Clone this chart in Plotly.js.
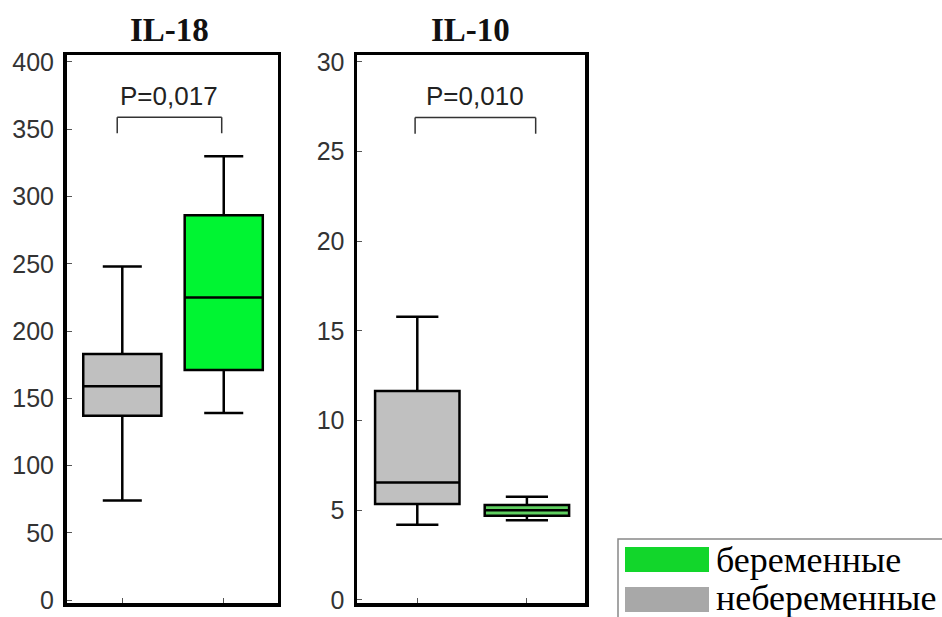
<!DOCTYPE html>
<html>
<head>
<meta charset="utf-8">
<script src="https://cdn.plot.ly/plotly-3.0.1.min.js"></script>
<style>html,body{margin:0;padding:0;background:#fff;}#chart{width:942px;height:617px;}</style>
</head>
<body>
<div id="chart"></div>
<script>
// Group labels
const groups = ["небеременные", "беременные"];
const panelTitles = ["IL-18", "IL-10"];
const pValues = ["P=0,017", "P=0,010"];

// IL-18 box statistics: [небеременные, беременные]
const il18Min = [74, 139];
const il18Q1 = [137, 171];
const il18Median = [159, 225];
const il18Q3 = [183, 286];
const il18Max = [248, 330];

// IL-10 box statistics: [небеременные, беременные]
const il10Min = [4.2, 4.45];
const il10Q1 = [5.35, 4.7];
const il10Median = [6.55, 5.0];
const il10Q3 = [11.65, 5.3];
const il10Max = [15.8, 5.75];

// Axis ticks
const il18Ticks = [0, 50, 100, 150, 200, 250, 300, 350, 400];
const il10Ticks = [0, 5, 10, 15, 20, 25, 30];

// Bracket positions for p-value marks
const il18Bracket = {x0: -0.05, x1: 0.98, top: 359, leg: 347, text: 375};
const il10Bracket = {x0: -0.02, x1: 1.08, top: 26.9, leg: 26.0, text: 28.1};

const greyFill = "#c0c0c0";
const green18 = "#00f532";
const green10 = "#5fcf60";

function boxTrace(i, stats, fill, xa, ya) {
  return {
    type: "box",
    x: [i],
    q1: [stats.q1[i]], median: [stats.median[i]], q3: [stats.q3[i]],
    lowerfence: [stats.min[i]], upperfence: [stats.max[i]],
    width: 0.77, whiskerwidth: 0.5,
    fillcolor: fill,
    line: {color: "#000", width: 2.5},
    boxpoints: false,
    xaxis: xa, yaxis: ya,
    name: groups[i], showlegend: false, hoverinfo: "skip"
  };
}

const s18 = {min: il18Min, q1: il18Q1, median: il18Median, q3: il18Q3, max: il18Max};
const s10 = {min: il10Min, q1: il10Q1, median: il10Median, q3: il10Q3, max: il10Max};

const data = [
  boxTrace(0, s18, greyFill, "x", "y"),
  boxTrace(1, s18, green18, "x", "y"),
  boxTrace(0, s10, greyFill, "x2", "y2"),
  boxTrace(1, s10, green10, "x2", "y2")
];

const W = 942, H = 617;
const px = v => v / W;
const py = v => 1 - v / H;

function xaxisDef(domain) {
  return {
    domain: domain, range: [-0.55, 1.53],
    showline: true, linecolor: "#000", linewidth: 3.5, mirror: true,
    showgrid: false, zeroline: false,
    tickmode: "array", tickvals: [0, 1], ticktext: ["", ""],
    ticks: "inside", ticklen: 5, tickwidth: 1, tickcolor: "#555",
    fixedrange: true, automargin: false
  };
}
function yaxisDef(range, ticks, anchor) {
  return {
    domain: [py(603), py(55)], range: range, anchor: anchor,
    showline: true, linecolor: "#000", linewidth: 3.5, mirror: true,
    showgrid: false, zeroline: false,
    tickmode: "array", tickvals: ticks,
    ticks: "inside", ticklen: 5, tickwidth: 1, tickcolor: "#555",
    ticklabelstandoff: 4,
    tickfont: {family: "Liberation Sans, Arial, sans-serif", size: 25, color: "#333"},
    fixedrange: true, automargin: false
  };
}

const bracketLine = {color: "#333", width: 1.5};
function bracket(xref, yref, b) {
  return [
    {type: "line", xref: xref, yref: yref, x0: b.x0, x1: b.x0, y0: b.leg, y1: b.top, line: bracketLine},
    {type: "line", xref: xref, yref: yref, x0: b.x0, x1: b.x1, y0: b.top, y1: b.top, line: bracketLine},
    {type: "line", xref: xref, yref: yref, x0: b.x1, x1: b.x1, y0: b.top, y1: b.leg, line: bracketLine}
  ];
}

const shapes = [].concat(
  bracket("x", "y", il18Bracket),
  bracket("x2", "y2", il10Bracket),
  [
    // legend frame and swatches
    {type: "rect", xref: "paper", yref: "paper", x0: px(618), x1: px(944), y0: py(619), y1: py(539),
     line: {color: "#888", width: 1.5}, fillcolor: "#fff"},
    {type: "rect", xref: "paper", yref: "paper", x0: px(625), x1: px(709), y0: py(572), y1: py(547),
     line: {width: 0}, fillcolor: "#12d62b"},
    {type: "rect", xref: "paper", yref: "paper", x0: px(625), x1: px(709), y0: py(612), y1: py(587),
     line: {width: 0}, fillcolor: "#a8a8a8"}
  ]
);

const annotations = [
  {text: "<b>" + panelTitles[0] + "</b>", xref: "paper", yref: "paper", x: px(169), y: py(30),
   showarrow: false, xanchor: "center", yanchor: "middle",
   font: {family: "Liberation Serif, Times New Roman, serif", size: 33, color: "#111"}},
  {text: "<b>" + panelTitles[1] + "</b>", xref: "paper", yref: "paper", x: px(470), y: py(30),
   showarrow: false, xanchor: "center", yanchor: "middle",
   font: {family: "Liberation Serif, Times New Roman, serif", size: 33, color: "#111"}},
  {text: pValues[0], xref: "x", yref: "y", x: (il18Bracket.x0 + il18Bracket.x1) / 2, y: il18Bracket.text, showarrow: false,
   font: {family: "Liberation Sans, Arial, sans-serif", size: 26, color: "#222"}},
  {text: pValues[1], xref: "x2", yref: "y2", x: (il10Bracket.x0 + il10Bracket.x1) / 2, y: il10Bracket.text, showarrow: false,
   font: {family: "Liberation Sans, Arial, sans-serif", size: 26, color: "#222"}},
  {text: groups[1], xref: "paper", yref: "paper", x: px(714), y: py(560), showarrow: false,
   xanchor: "left", yanchor: "middle",
   font: {family: "Liberation Serif, Times New Roman, serif", size: 36, color: "#000"}},
  {text: groups[0], xref: "paper", yref: "paper", x: px(714), y: py(598), showarrow: false,
   xanchor: "left", yanchor: "middle",
   font: {family: "Liberation Serif, Times New Roman, serif", size: 36, color: "#000"}}
];

const layout = {
  width: W, height: H,
  margin: {l: 0, r: 0, t: 0, b: 0},
  paper_bgcolor: "#fff", plot_bgcolor: "#fff",
  showlegend: false,
  xaxis: xaxisDef([px(66.5), px(277.5)]),
  yaxis: yaxisDef([-2.2, 405.2], il18Ticks, "x"),
  xaxis2: xaxisDef([px(357), px(585)]),
  yaxis2: yaxisDef([-0.17, 30.39], il10Ticks, "x2"),
  shapes: shapes,
  annotations: annotations
};
layout.xaxis.anchor = "y";
layout.xaxis2.anchor = "y2";

Plotly.newPlot("chart", data, layout, {displayModeBar: false, staticPlot: true});
</script>
</body>
</html>
